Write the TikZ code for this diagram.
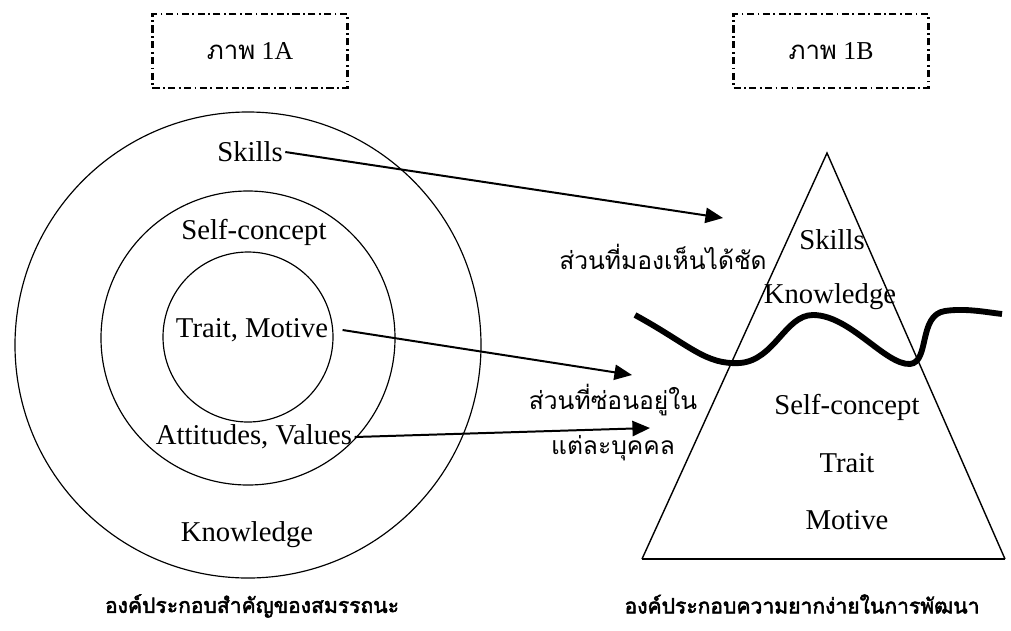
\documentclass[tikz,border=0pt]{standalone}
\usepackage{fontspec}
\setmainfont{Liberation Serif}
\newfontfamily\thaifont[Script=Thai]{Loma}
\newfontfamily\thaibold[Script=Thai,FakeBold=2.5]{Loma}
\usepackage{tikz}
\usetikzlibrary{arrows.meta}

\begin{document}
\begin{tikzpicture}[x=0.03cm,y=-0.03cm,
  lbl/.style={font=\fontsize{24.5}{29}\selectfont, inner sep=2pt},
  thai/.style={font=\thaifont\fontsize{21}{25}\selectfont, inner sep=2pt},
  caption/.style={font=\thaibold\fontsize{18}{22}\selectfont},
  pointer/.style={line width=1.7pt,-{Triangle[length=15pt,width=13pt]}},
  framebox/.style={draw,line width=1.8pt,dash pattern=on 6pt off 3pt on 1.5pt off 3pt,
    minimum width=5.85cm,minimum height=2.2cm,font=\fontsize{22}{26}\selectfont}]
\useasboundingbox (0,0) rectangle (1011,630);
\node[framebox] (boxA) at (250,51) {{\thaifont ภาพ} 1A};
\node[framebox] (boxB) at (831,51) {{\thaifont ภาพ} 1B};

\draw[line width=1pt] (248,345) circle[radius=233];
\draw[line width=1pt] (248,338) circle[radius=147];
\draw[line width=1pt] (248,337) circle[radius=85];

\node[lbl] (skillsA) at (250,152) {Skills};
\node[lbl] (selfA) at (254,232) {Self-concept};
\node[lbl] (traitA) at (252,330) {Trait, Motive};
\node[lbl] (attA) at (254,437) {Attitudes, Values};
\node[lbl] (knowA) at (247,535) {Knowledge};

\draw[line width=1.2pt] (642,559) -- (827,153) -- (1005,559);
\draw[line width=2pt] (642,559) -- (1005,559);
\draw[line width=5pt] (635,315) .. controls (690,345) and (705,365) .. (740,363)
  .. controls (775,360) and (785,315) .. (813,315)
  .. controls (850,315) and (885,365) .. (910,364)
  .. controls (930,362) and (918,315) .. (945,311)
  .. controls (965,308) and (985,312) .. (1002,314);

\node[lbl] (skillsB) at (832,240) {Skills};
\node[lbl] (knowB) at (830,297) {Knowledge};
\node[lbl] (selfB) at (847,407) {Self-concept};
\node[lbl] (traitB) at (847,463) {Trait};
\node[lbl] (motiveB) at (847,520) {Motive};

\node[thai] (seen) at (663,257) {ส่วนที่มองเห็นได้ชัด};
\node[thai] (hidden) at (613,400) {ส่วนที่ซ่อนอยู่ใน};
\node[thai] (person) at (613,448) {แต่ละบุคคล};

\coordinate (tipS) at (723,218);
\coordinate (tipT) at (632,375);
\coordinate (tipA) at (650,428);
\draw[pointer] (skillsA.east) -- (tipS);
\draw[pointer] (traitA.east) ++(12,0) -- (tipT);
\draw[pointer] (attA.east) -- (tipA);

\node[caption] (capA) at (252,606) {องค์ประกอบสำคัญของสมรรถนะ};
\node[caption] (capB) at (802,604) {องค์ประกอบความยากง่ายในการพัฒนา};
\end{tikzpicture}
\end{document}
